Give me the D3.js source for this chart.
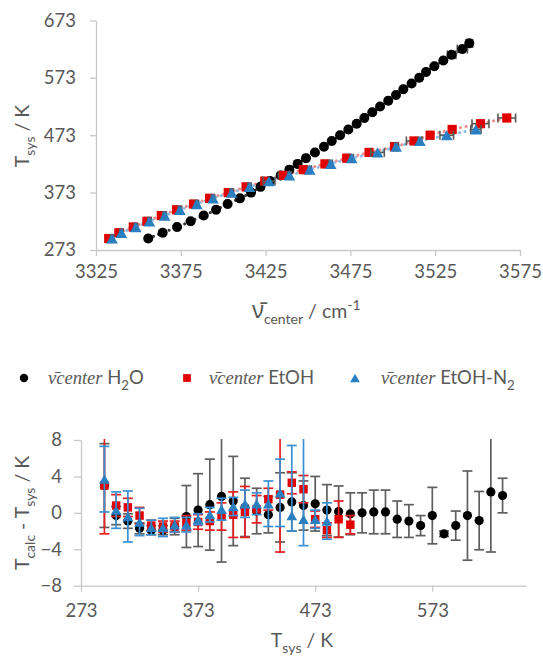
<!DOCTYPE html>
<html>
<head>
<meta charset="utf-8">
<script src="https://cdn.jsdelivr.net/npm/d3@7"></script>
<style>
  body { margin: 0; background: #fff; }
  svg { display: block; font-family: Lato, "Open Sans", sans-serif; }
</style>
</head>
<body>
<div id="chart"></div>
<script>
// set temperatures T_sys / K
const tH2O  = [293,303,313,323,333,343,353,363,373,383,393,403,413,423,433,443,453,463,473,483,493,503,513,523,533,543,553,563,573,583,593,603,613,623,633];
const tEtOH = [293,303,313,323,333,343,353,363,373,383,393,403,413,423,433,443,453,463,473,483,493,503];
const tN2   = [293,303,313,323,333,343,353,363,373,383,393,403,413,423,433,443,453,463,473,483];

// band centre (cm-1) and its uncertainty
const nuH2O  = [3355.8,3364.3,3372.8,3380.8,3388.5,3395.8,3402.6,3409.9,3416.4,3422.0,3427.6,3433.9,3439.0,3443.9,3448.8,3454.1,3459.4,3464.0,3468.9,3473.8,3478.7,3483.2,3487.9,3492.5,3497.3,3501.9,3506.2,3511.1,3515.6,3519.6,3524.5,3529.8,3534.7,3541.0,3545.1];
const nuErrH2O = [1,1,1,1,1,1,1,1,1,1,1,1,1,1,1,1,1,1,1,1,1,1,1,1,1,1,1,1,1,1,1,1,2.5,3,2];
const nuEtOH = [3332.5,3338.5,3347.0,3355.0,3363.5,3372.5,3382.5,3392.0,3403.0,3413.5,3424.5,3435.6,3447.2,3460.0,3472.8,3486.0,3501.0,3512.5,3522.0,3535.0,3551.7,3567.2];
const nuErrEtOH = [1,1,1,1,1,1,1,1,1,1,1.5,3,1,1,1,1,1,4.5,1,1,5,5.2];
const nuN2   = [3334.5,3340.0,3348.5,3356.5,3365.5,3374.5,3384.5,3394.0,3405.0,3415.5,3427.0,3439.0,3451.0,3463.4,3475.8,3491.0,3502.0,3516.0,3531.8,3549.0];
const nuErrN2 = [1,1,1,1,1,1,1,1,1,1,3.5,1,1,1,1,4,1,1,4,3];

// T_calc - T_sys / K with upper / lower error
const dH2O   = [3.0,-0.3,-0.9,-1.7,-1.9,-1.9,-1.5,-0.4,0.3,0.9,1.8,1.3,0.6,0.2,-0.2,0.6,1.2,0.8,1.0,0.3,0.15,-0.1,0.0,0.1,0.1,-0.7,-0.9,-1.4,-0.3,-2.3,-1.4,-0.3,-0.85,2.3,1.9];
const eH2O   = [4.6,1.0,0.8,0.6,0.5,0.5,0.9,3.4,4.0,5.0,7.2,4.9,3.2,2.5,2.0,3.8,3.2,2.7,3.0,2.8,2.8,2.3,2.2,2.4,2.4,2.0,1.8,1.1,3.1,0.3,1.6,4.9,3.2,6.6,1.9];
const dEtOH  = [3.0,0.8,0.6,-0.3,-1.4,-1.5,-1.5,-1.1,-1.0,-0.9,-0.4,-0.2,0.1,0.4,1.5,2.0,3.3,2.6,-0.7,-1.9,-0.7,-1.3];
const eEtOH  = [5.3,1.2,1.0,0.9,0.6,0.6,0.6,0.8,0.8,1.0,1.5,2.5,2.8,1.5,1.2,6.3,1.2,1.5,0.9,0.8,2.0,1.0];
const dN2    = [3.7,0.3,-0.4,-1.0,-1.6,-1.6,-1.3,-1.3,-0.7,-0.2,0.4,0.7,1.0,1.0,1.0,2.2,-0.3,-0.7,-0.7,-0.9];
const eUpN2  = [3.6,2.0,2.8,1.5,0.8,1.0,0.8,0.8,0.6,0.8,1.2,1.0,1.5,1.2,2.5,3.7,7.7,9.0,1.0,2.0];
const eDnN2  = [3.6,2.0,2.8,1.5,0.8,1.0,0.8,0.8,0.6,0.8,1.2,1.0,1.5,1.2,2.5,3.7,1.7,2.9,1.0,2.0];

const topXTicks = [3325,3375,3425,3475,3525,3575];
const topYTicks = [273,373,473,573,673];
const botXTicks = [273,373,473,573];
const botYTicks = [-8,-4,0,4,8];

// legend names, the "2" is drawn as subscript
const legendNames = [[{t: " H"}, {t: "2", sub: true}, {t: "O"}],
                     [{t: " EtOH"}],
                     [{t: " EtOH-N"}, {t: "2", sub: true}]];

const grey = "#595959", axisCol = "#c9c9c9";

const series = [
  {t: tH2O,  nu: nuH2O,  nuErr: nuErrH2O,  d: dH2O,  up: eH2O,  dn: eH2O,  shape: "circle",   fill: "#000000", bar: "#5f5f5f", trend: "#3a3a3a"},
  {t: tEtOH, nu: nuEtOH, nuErr: nuErrEtOH, d: dEtOH, up: eEtOH, dn: eEtOH, shape: "square",   fill: "#e00000", bar: "#e52020", trend: "#f08c8c"},
  {t: tN2,   nu: nuN2,   nuErr: nuErrN2,   d: dN2,   up: eUpN2, dn: eDnN2, shape: "triangle", fill: "#2a7fc1", bar: "#3b8fd3", trend: "#92bde3"}
];

const svg = d3.select("#chart").append("svg")
  .attr("width", 543).attr("height", 663);

// ---------- scales
const xTop = d3.scaleLinear().domain([3325, 3575]).range([96, 520]);
const yTop = d3.scaleLinear().domain([273, 673]).range([250, 20.4]);
const xBot = d3.scaleLinear().domain([273, 653]).range([81, 526]);
const yBot = d3.scaleLinear().domain([-8, 8]).range([585.7, 440]);

function marker(g, shape, x, y, fill, s) {
  if (shape === "circle") {
    g.append("circle").attr("cx", x).attr("cy", y).attr("r", s * 0.5).attr("fill", fill);
  } else if (shape === "square") {
    g.append("rect").attr("x", x - s * 0.46).attr("y", y - s * 0.46)
      .attr("width", s * 0.92).attr("height", s * 0.92).attr("fill", fill);
  } else {
    const w = s * 1.16, h = s * 1.02;
    g.append("path").attr("d", `M${x},${y - h / 2}L${x + w / 2},${y + h / 2}L${x - w / 2},${y + h / 2}Z`)
      .attr("fill", fill);
  }
}

function styleAxis(g) {
  g.select(".domain").attr("stroke", axisCol).attr("stroke-width", 1.3);
  g.selectAll(".tick line").attr("stroke", axisCol).attr("stroke-width", 1.3);
  g.selectAll(".tick text").attr("fill", grey).attr("font-size", 18.5)
    .attr("font-family", "Lato, 'Open Sans', sans-serif");
}

// rich text with sub / superscripts
function rich(txt, parts, size) {
  let shift = 0;
  parts.forEach(p => {
    const ts = txt.append("tspan").text(p.t);
    let target = 0;
    if (p.sub) { ts.attr("font-size", size * 0.72); target = size * 0.3; }
    if (p.sup) { ts.attr("font-size", size * 0.72); target = -size * 0.42; }
    if (target !== shift) { ts.attr("dy", target - shift); shift = target; }
    if (p.font) ts.attr("font-family", p.font);
    if (p.italic) ts.attr("font-style", "italic");
    if (p.size) ts.attr("font-size", p.size);
  });
  return txt;
}
function label(parent, parts, size) {
  return rich(parent.append("text").attr("fill", grey).attr("font-size", size), parts, size);
}

// ================= top chart
const topG = svg.append("g");

topG.append("g").attr("transform", "translate(0,250)")
  .call(d3.axisBottom(xTop).tickValues(topXTicks).tickFormat(d3.format("d"))
    .tickSize(6).tickSizeOuter(0).tickPadding(9))
  .call(styleAxis);
topG.append("g").attr("transform", "translate(96,0)")
  .call(d3.axisLeft(yTop).tickValues(topYTicks).tickFormat(d3.format("d"))
    .tickSize(6).tickSizeOuter(0).tickPadding(14))
  .call(styleAxis);

series.forEach(s => {
  const pts = s.t.map((t, i) => ({x: xTop(s.nu[i]), y: yTop(t)}));
  // dotted trend
  topG.append("path")
    .attr("d", d3.line().x(p => p.x).y(p => p.y).curve(d3.curveCatmullRom)(pts))
    .attr("fill", "none").attr("stroke", s.trend).attr("stroke-width", 3)
    .attr("stroke-linecap", "round").attr("stroke-dasharray", "0.1 5.5");
});

series.forEach(s => {
  const g = topG.append("g");
  s.t.forEach((t, i) => {
    const y = yTop(t);
    const x0 = xTop(s.nu[i] - s.nuErr[i]), x1 = xTop(s.nu[i] + s.nuErr[i]);
    g.append("line").attr("x1", x0).attr("x2", x1).attr("y1", y).attr("y2", y)
      .attr("stroke", grey).attr("stroke-width", 1.6);
    [x0, x1].forEach(xx => g.append("line").attr("x1", xx).attr("x2", xx)
      .attr("y1", y - 4.5).attr("y2", y + 4.5).attr("stroke", grey).attr("stroke-width", 1.6));
  });
  s.t.forEach((t, i) => marker(g, s.shape, xTop(s.nu[i]), yTop(t), s.fill, 10));
});

// axis titles (top)
label(topG, [{t: "T"}, {t: "sys", sub: true}, {t: " / K"}], 19.5)
  .attr("text-anchor", "middle").attr("transform", "translate(29,136) rotate(-90)");

label(topG, [{t: "\u03BD\u0304", font: "'Noto Sans', 'DejaVu Sans', sans-serif", size: 23},
             {t: "center", sub: true}, {t: " / cm"}, {t: "-1", sup: true}], 19.5)
  .attr("x", 252).attr("y", 318);

// ================= legend
const legG = svg.append("g");
const legX = [[24, 48], [187, 209], [355, 381]];
series.forEach((s, i) => {
  const [mx, tx] = legX[i];
  marker(legG, s.shape, mx, 378, s.fill, 8.4);
  const parts = [{t: "\u03BD\u0304center", italic: true, font: "'Liberation Serif', 'DejaVu Serif', serif"}]
    .concat(legendNames[i]);
  label(legG, parts, 18.5).attr("x", tx).attr("y", 384);
});

// ================= bottom chart
const botG = svg.append("g");
botG.append("g").attr("transform", "translate(0,585.7)")
  .call(d3.axisBottom(xBot).tickValues(botXTicks).tickFormat(d3.format("d"))
    .tickSize(6).tickSizeOuter(0).tickPadding(12))
  .call(styleAxis);
botG.append("g").attr("transform", "translate(81,0)")
  .call(d3.axisLeft(yBot).tickValues(botYTicks).tickSize(7).tickSizeOuter(0).tickPadding(12))
  .call(styleAxis);

svg.append("clipPath").attr("id", "plotClip").append("rect")
  .attr("x", 60).attr("y", 439).attr("width", 480).attr("height", 147);

const botPlot = botG.append("g").attr("clip-path", "url(#plotClip)");
series.forEach(s => {
  const g = botPlot.append("g");
  s.t.forEach((t, i) => {
    const x = xBot(t);
    const yA = yBot(s.d[i] + s.up[i]), yB = yBot(s.d[i] - s.dn[i]);
    g.append("line").attr("x1", x).attr("x2", x).attr("y1", yA).attr("y2", yB)
      .attr("stroke", s.bar).attr("stroke-width", 1.7);
    [yA, yB].forEach(yy => g.append("line").attr("x1", x - 5).attr("x2", x + 5)
      .attr("y1", yy).attr("y2", yy).attr("stroke", s.bar).attr("stroke-width", 1.7));
  });
  s.t.forEach((t, i) => marker(g, s.shape, xBot(t), yBot(s.d[i]), s.fill, 9.2));
});

label(botG, [{t: "T"}, {t: "calc", sub: true}, {t: " - T"}, {t: "sys", sub: true}, {t: " / K"}], 19.5)
  .attr("text-anchor", "middle").attr("transform", "translate(29,513) rotate(-90)");
label(botG, [{t: "T"}, {t: "sys", sub: true}, {t: " / K"}], 19.5)
  .attr("text-anchor", "middle").attr("x", 302).attr("y", 647);
</script>
</body>
</html>
